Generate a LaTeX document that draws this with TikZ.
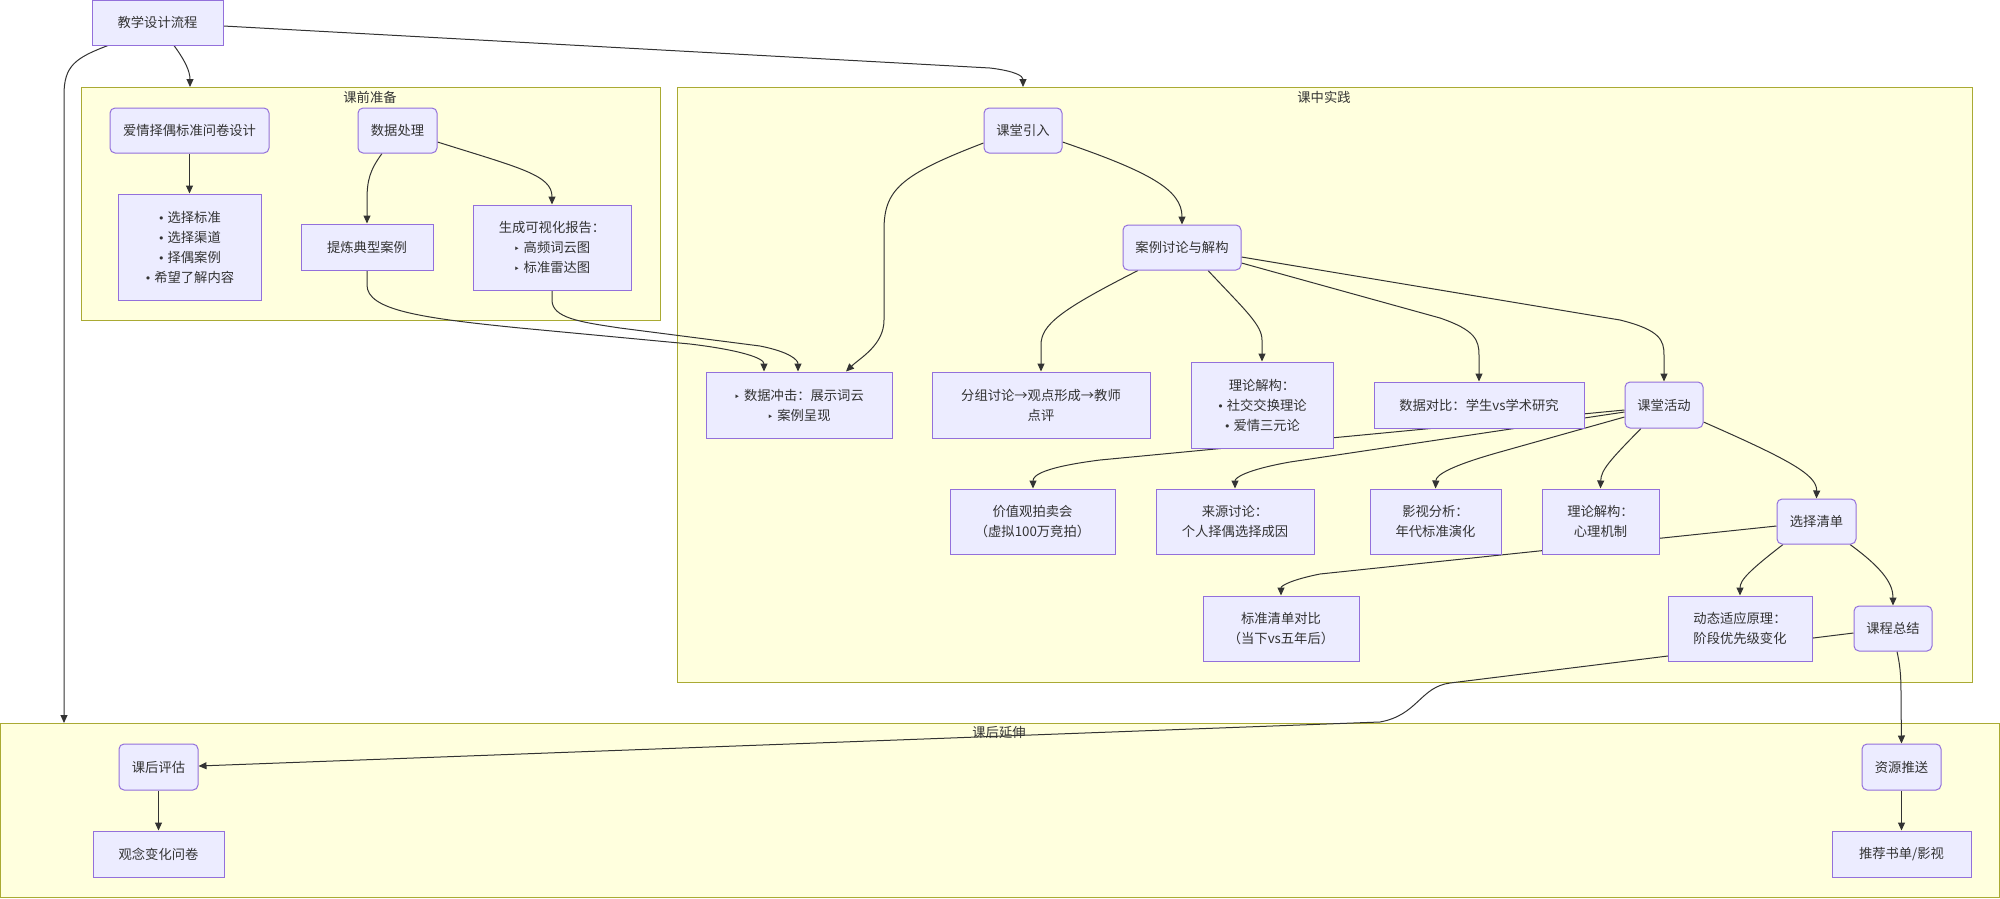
\documentclass[tikz,border=0pt]{standalone}
\usepackage{fontspec}
\setmainfont{Noto Sans CJK SC}
\newfontfamily\dv{DejaVu Sans}
\usetikzlibrary{arrows.meta,calc}
\definecolor{nfill}{HTML}{ECECFF}
\definecolor{nstroke}{HTML}{9370DB}
\definecolor{cfill}{HTML}{FFFFDE}
\definecolor{cstroke}{HTML}{AAAA33}
\definecolor{ink}{HTML}{333333}
\newcommand{\bu}{{\dv\fontsize{11}{11}\selectfont •}\hspace{3pt}}
\newcommand{\tri}{{\dv\fontsize{10}{10}\selectfont ‣}\hspace{4pt}}
\pgfdeclarelayer{bg}
\pgfdeclarelayer{edgelayer}
\pgfsetlayers{bg,edgelayer,main}
\tikzset{
 nbox/.style={draw=nstroke, fill=nfill, line width=1pt, text=ink, align=center, inner sep=0pt, font=\fontsize{13.3}{20}\selectfont},
 rbox/.style={nbox, rounded corners=5pt},
 clus/.style={draw=cstroke, fill=cfill, line width=1pt},
 ctitle/.style={text=ink, font=\fontsize{13.3}{16}\selectfont, inner sep=0pt},
 edge/.style={draw=ink, line width=1pt, -{Triangle[length=8pt,width=7pt]}},
}
\begin{document}
\begin{tikzpicture}[x=1pt,y=-1pt]
\useasboundingbox (0,0) rectangle (2000,898);
\begin{pgfonlayer}{bg}
\fill[white] (0,0) rectangle (2000,898);
\draw[clus] (81,87) rectangle (660,320);
\draw[clus] (677,87) rectangle (1972,682);
\draw[clus] (0.5,723.5) rectangle (1999.5,897.5);
\end{pgfonlayer}
\node[ctitle] (tpre) at (370,97) {课前准备};
\node[ctitle] (tmid) at (1324,97) {课中实践};
\node[ctitle] (tpost) at (999,733) {课后延伸};
\coordinate (preIn) at (190,87);
\coordinate (midIn) at (1023,87);
\coordinate (postIn) at (64,723);

% nodes
\node[nbox, minimum width=131pt, minimum height=45pt] (top) at (157.5,22.5) {教学设计流程};
\node[rbox, minimum width=159pt, minimum height=45pt] (q) at (189.5,130.5) {爱情择偶标准问卷设计};
\node[nbox, minimum width=143pt, minimum height=106pt] (qb) at (189.5,247) {\bu 选择标准\\\bu 选择渠道\\\bu 择偶案例\\\bu 希望了解内容};
\node[rbox, minimum width=79pt, minimum height=45pt] (dp) at (397.5,130.5) {数据处理};
\node[nbox, minimum width=132pt, minimum height=46pt] (tl) at (367,247) {提炼典型案例};
\node[nbox, minimum width=158pt, minimum height=85pt] (sc) at (552,247.5) {生成可视化报告：\\\tri 高频词云图\\\tri 标准雷达图};
\node[rbox, minimum width=78pt, minimum height=45pt] (ki) at (1023,130.5) {课堂引入};
\node[rbox, minimum width=118pt, minimum height=45pt] (al) at (1182,247.5) {案例讨论与解构};
\node[nbox, minimum width=186pt, minimum height=66pt] (sj) at (799,405) {\tri 数据冲击：展示词云\\\tri 案例呈现};
\node[nbox, minimum width=218pt, minimum height=66pt] (fz) at (1041,405) {分组讨论→观点形成→教师\\点评};
\node[nbox, minimum width=142pt, minimum height=86pt] (ll) at (1262,405) {理论解构：\\\bu 社交交换理论\\\bu 爱情三元论};
\node[nbox, minimum width=210pt, minimum height=46pt] (db) at (1479,405) {数据对比：学生vs学术研究};
\node[rbox, minimum width=78pt, minimum height=46pt] (kt) at (1664,405) {课堂活动};
\node[nbox, minimum width=165pt, minimum height=65pt] (jz) at (1032.5,521.5) {价值观拍卖会\\（虚拟100万竞拍）};
\node[nbox, minimum width=158pt, minimum height=65pt] (ly) at (1235,521.5) {来源讨论：\\个人择偶选择成因};
\node[nbox, minimum width=131pt, minimum height=65pt] (ys) at (1435.5,521.5) {影视分析：\\年代标准演化};
\node[nbox, minimum width=117pt, minimum height=65pt] (xl) at (1600.5,521.5) {理论解构：\\心理机制};
\node[rbox, minimum width=79pt, minimum height=45pt] (xz) at (1816.5,521.5) {选择清单};
\node[nbox, minimum width=156pt, minimum height=65pt] (bq) at (1281,628.5) {标准清单对比\\（当下vs五年后）};
\node[nbox, minimum width=144pt, minimum height=65pt] (dt) at (1740,628.5) {动态适应原理：\\阶段优先级变化};
\node[rbox, minimum width=78pt, minimum height=45pt] (kz) at (1893,628.5) {课程总结};
\node[rbox, minimum width=79pt, minimum height=46pt] (kp) at (158.5,767) {课后评估};
\node[nbox, minimum width=131pt, minimum height=46pt] (gn) at (158.5,854) {观念变化问卷};
\node[rbox, minimum width=79pt, minimum height=46pt] (zy) at (1901.5,767) {资源推送};
\node[nbox, minimum width=139pt, minimum height=46pt] (tj) at (1901.5,854) {推荐书单/影视};

\begin{pgfonlayer}{edgelayer}
\draw[edge] ($(top.south)+(16.5,0)$) .. controls (186,62) and (190,72) .. (preIn);
\draw[edge] ($(top.east)+(0,3.5)$) -- (990,68) .. controls (1015,71) and (1023,76) .. (midIn);
\draw[edge] ($(top.south)+(-49.5,0)$) .. controls (75,58) and (64,66) .. (64,95) -- (postIn);
\draw[edge] (q) -- (qb);
\draw[edge] ($(dp.south)+(-15.5,0)$) .. controls (370,170) and (367,180) .. (367,200) -- (tl.north);
\draw[edge] ($(dp.east)+(0,11.5)$) .. controls (520,168) and (552,175) .. (sc.north);
\draw[edge] (tl.south) -- (367,285) .. controls (367,310) and (420,318) .. (520,328) -- (690,344) .. controls (740,350) and (764,358) .. ($(sj.north)+(-35,0)$);
\draw[edge] (sc.south) -- (552,300) .. controls (552,318) and (580,322) .. (620,328) -- (760,346) .. controls (790,352) and (798,360) .. ($(sj.north)+(-1,0)$);
\draw[edge] ($(ki.west)+(0,12.5)$) .. controls (900,175) and (884,190) .. (884,230) -- (884,320) .. controls (884,345) and (860,358) .. ($(sj.north)+(47,0)$);
\draw[edge] ($(ki.east)+(0,11.5)$) .. controls (1150,172) and (1182,190) .. (al.north);
\draw[edge] ($(al.south)+(-44,0)$) .. controls (1060,310) and (1041,325) .. (1041,345) -- (fz.north);
\draw[edge] ($(al.south)+(26,0)$) .. controls (1245,310) and (1262,325) .. (1262,340) -- (ll.north);
\draw[edge] ($(al.east)+(0,15.5)$) -- (1440,318) .. controls (1475,330) and (1479,340) .. (1479,355) -- (db.north);
\draw[edge] ($(al.east)+(0,9.5)$) -- (1620,320) .. controls (1660,330) and (1664,340) .. (1664,355) -- (kt.north);
\draw[edge] ($(kt.west)+(0,5)$) -- (1100,460) .. controls (1045,467) and (1033,475) .. ($(jz.north)+(0.5,0)$);
\draw[edge] ($(kt.west)+(0,7)$) -- (1290,462) .. controls (1245,470) and (1235,478) .. (ly.north);
\draw[edge] ($(kt.west)+(0,12)$) -- (1500,452) .. controls (1450,466) and (1436,475) .. (ys.north);
\draw[edge] ($(kt.south)+(-23,0)$) .. controls (1610,460) and (1601,470) .. (xl.north);
\draw[edge] ($(kt.east)+(0,17)$) .. controls (1790,460) and (1817,475) .. (xz.north);
\draw[edge] ($(xz.west)+(0,4.5)$) -- (1320,574) .. controls (1290,580) and (1281,586) .. (bq.north);
\draw[edge] ($(xz.south)+(-33.5,0)$) .. controls (1750,570) and (1740,580) .. (dt.north);
\draw[edge] ($(xz.south)+(33.5,0)$) .. controls (1885,570) and (1893,585) .. (kz.north);
\draw[edge] ($(kz.west)+(0,4.5)$) -- (1450,683) .. controls (1420,687) and (1418,715) .. (1380,722) -- ($(kp.east)+(0,-1)$);
\draw[edge] ($(kz.south)+(4,0)$) .. controls (1901,670) and (1901,680) .. (1901,700) -- (zy.north);
\draw[edge] (kp) -- (gn);
\draw[edge] (zy) -- (tj);
\end{pgfonlayer}
\end{tikzpicture}
\end{document}
